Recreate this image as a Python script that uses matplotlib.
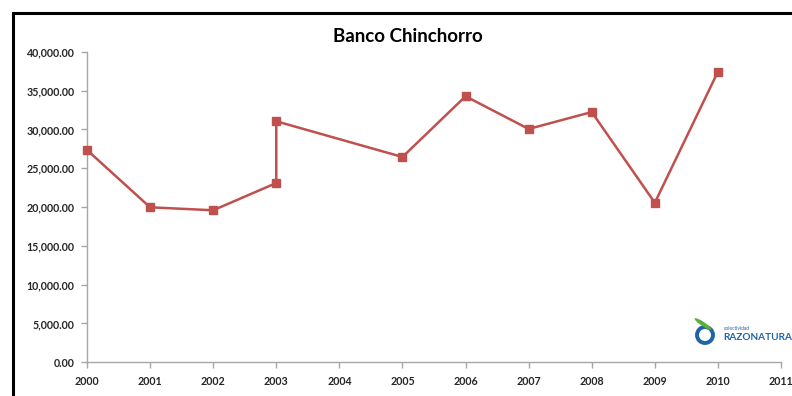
import matplotlib.pyplot as plt
from matplotlib.patches import Rectangle, Ellipse

# data (2003 appears twice, 2004 has no point)
years = [2000, 2001, 2002, 2003, 2003, 2005, 2006, 2007, 2008, 2009, 2010]
values = [27340, 19960, 19580, 23090, 31040, 26440, 34260, 30050, 32230, 20550, 37420]
tick_years = list(range(2000, 2012))

plt.rcParams['font.family'] = ['Lato', 'DejaVu Sans']

W, H = 792, 396
fig = plt.figure(figsize=(W / 100, H / 100), dpi=100)
fig.patch.set_facecolor('white')

# black frame of the original chart (cut on the right and bottom)
fig.patches.append(Rectangle((13.5 / W, -0.2), 1.2, 1.2 - 13 / H,
                             transform=fig.transFigure, fill=False,
                             edgecolor='black', linewidth=2.2))

ax = fig.add_axes([87 / W, 1 - 362.3 / H, (781 - 87) / W, (362.3 - 51.7) / H])
ax.plot(years, values, color='#C0504D', linewidth=1.8, marker='s',
        markersize=6, markerfacecolor='#C0504D', markeredgecolor='#C0504D',
        clip_on=False, zorder=3)

ax.set_xlim(2000, 2011)
ax.set_ylim(0, 40000)
ax.set_xticks(tick_years)
ax.set_xticklabels([str(y) for y in tick_years])
ax.set_yticks(range(0, 40001, 5000))
ax.set_yticklabels(['{:,.2f}'.format(v) for v in range(0, 40001, 5000)])

for s in ['top', 'right']:
    ax.spines[s].set_visible(False)
for s in ['left', 'bottom']:
    ax.spines[s].set_color('#A6A6A6')
    ax.spines[s].set_linewidth(1.0)
ax.tick_params(axis='both', direction='out', length=4, width=1.0,
               color='#A6A6A6', labelcolor='#262626', labelsize=7.7)
ax.tick_params(axis='x', pad=6)
ax.tick_params(axis='y', pad=5)
for lab in ax.get_xticklabels() + ax.get_yticklabels():
    lab.set_fontweight('bold')

fig.text(408 / W, 1 - 36 / H, 'Banco Chinchorro', ha='center', va='center',
         fontsize=13.5, fontweight='bold', color='black')

# small "colectividad RAZONATURA" logo at bottom right
fig.patches.append(Ellipse((705 / W, 1 - 335 / H), 16 / W, 16 / H, transform=fig.transFigure,
                           facecolor='white', edgecolor='#1F64A8', linewidth=2.8))
fig.patches.append(Ellipse((703 / W, 1 - 324 / H), 6 / W, 14 / H, angle=35,
                           transform=fig.transFigure, facecolor='#5DAF3C', edgecolor='none'))
fig.text(724 / W, 1 - 329 / H, 'colectividad', fontsize=3.5, color='#1F64A8',
         ha='left', va='center')
fig.text(723 / W, 1 - 337 / H, 'RAZONATURA', fontsize=7.2, fontweight='bold',
         color='#1F64A8', ha='left', va='center')

fig.savefig('out.png', dpi=100)
